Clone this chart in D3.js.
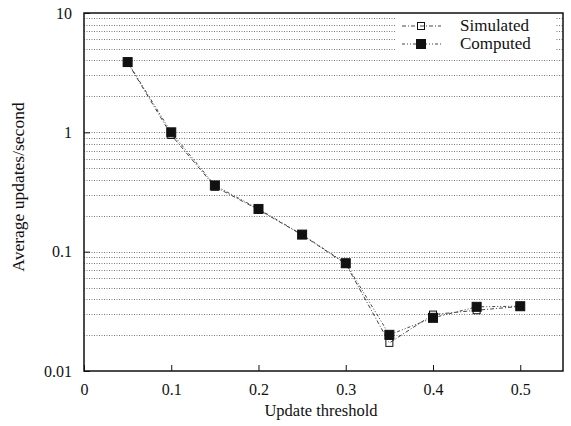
<!DOCTYPE html>
<html>
<head>
<meta charset="utf-8">
<script src="https://cdn.jsdelivr.net/npm/d3@7"></script>
<style>
  body { margin: 0; background: #fff; }
  svg text { font-family: "Liberation Serif", "Times New Roman", "DejaVu Serif", serif !important; fill: #111; }
</style>
</head>
<body>
<script>
const width = 571, height = 426;
const margin = { top: 13, right: 8, bottom: 55, left: 84 };

// data
const thresholds = [0.05, 0.1, 0.15, 0.2, 0.25, 0.3, 0.35, 0.4, 0.45, 0.5];
const simulated = [3.85, 0.95, 0.35, 0.225, 0.138, 0.079, 0.0172, 0.0297, 0.0323, 0.0348];
const computed  = [3.88, 1.0, 0.359, 0.228, 0.139, 0.080, 0.0201, 0.0279, 0.0345, 0.0349];
const xTicks = [0, 0.1, 0.2, 0.3, 0.4, 0.5];
const yTicks = [0.01, 0.1, 1, 10];

const svg = d3.select("body")
    .append("svg")
    .attr("width", width)
    .attr("height", height);

const x = d3.scaleLinear()
    .domain([0, 0.549])
    .range([margin.left, width - margin.right]);

const y = d3.scaleLog()
    .domain([0.01, 10])
    .range([height - margin.bottom, margin.top]);

// dotted grid at every minor log step
const gridVals = [];
for (let e = -2; e < 1; e++) {
    for (let m = 1; m < 10; m++) {
        const v = m * Math.pow(10, e);
        if (v > 0.01 && v < 10) gridVals.push(v);
    }
}

svg.append("g")
    .selectAll("line")
    .data(gridVals)
    .enter()
    .append("line")
    .attr("x1", margin.left)
    .attr("x2", width - margin.right)
    .attr("y1", d => Math.round(y(d)) + 0.5)
    .attr("y2", d => Math.round(y(d)) + 0.5)
    .attr("stroke", "#555")
    .attr("stroke-width", 0.8)
    .attr("stroke-dasharray", "1,1.5");

// x axis, ticks pointing inward
const xAxis = svg.append("g")
    .attr("transform", `translate(0,${height - margin.bottom})`)
    .call(d3.axisBottom(x).tickValues(xTicks).tickSize(-6).tickPadding(13).tickFormat(d => d === 0 ? "0" : d3.format(".1f")(d)));
xAxis.select(".domain").remove();
xAxis.selectAll("line").attr("stroke", "#111");
xAxis.selectAll("text").attr("font-size", 16);

const yAxis = svg.append("g")
    .attr("transform", `translate(${margin.left},0)`)
    .call(d3.axisLeft(y).tickValues(yTicks).tickSize(-6).tickPadding(12).tickFormat(d => d >= 1 ? d3.format("d")(d) : String(d)));
yAxis.select(".domain").remove();
yAxis.selectAll("line").attr("stroke", "#111");
yAxis.selectAll("text").attr("font-size", 16);

// frame
svg.append("rect")
    .attr("x", margin.left)
    .attr("y", margin.top)
    .attr("width", width - margin.right - margin.left)
    .attr("height", height - margin.bottom - margin.top)
    .attr("fill", "none")
    .attr("stroke", "#111")
    .attr("stroke-width", 1.5);

// axis titles
svg.append("text")
    .attr("x", 321)
    .attr("y", 416)
    .attr("text-anchor", "middle")
    .attr("font-size", 16.5)
    .text("Update threshold");

svg.append("text")
    .attr("transform", "translate(24,187) rotate(-90)")
    .attr("text-anchor", "middle")
    .attr("font-size", 17.5)
    .text("Average updates/second");

// series
const series = [
    { name: "Simulated", values: simulated, dash: "4,2,1,2", filled: false, size: 7 },
    { name: "Computed", values: computed, dash: "3,2,1,2,1,2", filled: true, size: 9 }
];

const line = d3.line()
    .x(d => x(d[0]))
    .y(d => y(d[1]));

series.forEach(s => {
    const pts = thresholds.map((t, i) => [t, s.values[i]]);
    svg.append("path")
        .datum(pts)
        .attr("d", line)
        .attr("fill", "none")
        .attr("stroke", "#444")
        .attr("stroke-width", 1)
        .attr("stroke-dasharray", s.dash);
    svg.append("g")
        .selectAll("rect")
        .data(pts)
        .enter()
        .append("rect")
        .attr("x", d => x(d[0]) - s.size / 2)
        .attr("y", d => y(d[1]) - s.size / 2)
        .attr("width", s.size)
        .attr("height", s.size)
        .attr("fill", s.filled ? "#111" : "none")
        .attr("stroke", "#111")
        .attr("stroke-width", 1);
});

// legend
const legend = svg.append("g");
legend.append("rect")
    .attr("x", 395)
    .attr("y", 15)
    .attr("width", 160)
    .attr("height", 38)
    .attr("fill", "#fff");

series.forEach((s, i) => {
    const ly = 26 + i * 18;
    legend.append("line")
        .attr("x1", 402)
        .attr("x2", 441)
        .attr("y1", ly)
        .attr("y2", ly)
        .attr("stroke", "#444")
        .attr("stroke-width", 1)
        .attr("stroke-dasharray", s.dash);
    legend.append("rect")
        .attr("x", 421 - s.size / 2)
        .attr("y", ly - s.size / 2)
        .attr("width", s.size)
        .attr("height", s.size)
        .attr("fill", s.filled ? "#111" : "none")
        .attr("stroke", "#111");
    legend.append("text")
        .attr("x", 460)
        .attr("y", ly + 5)
        .attr("font-size", 17)
        .text(s.name);
});
</script>
</body>
</html>
